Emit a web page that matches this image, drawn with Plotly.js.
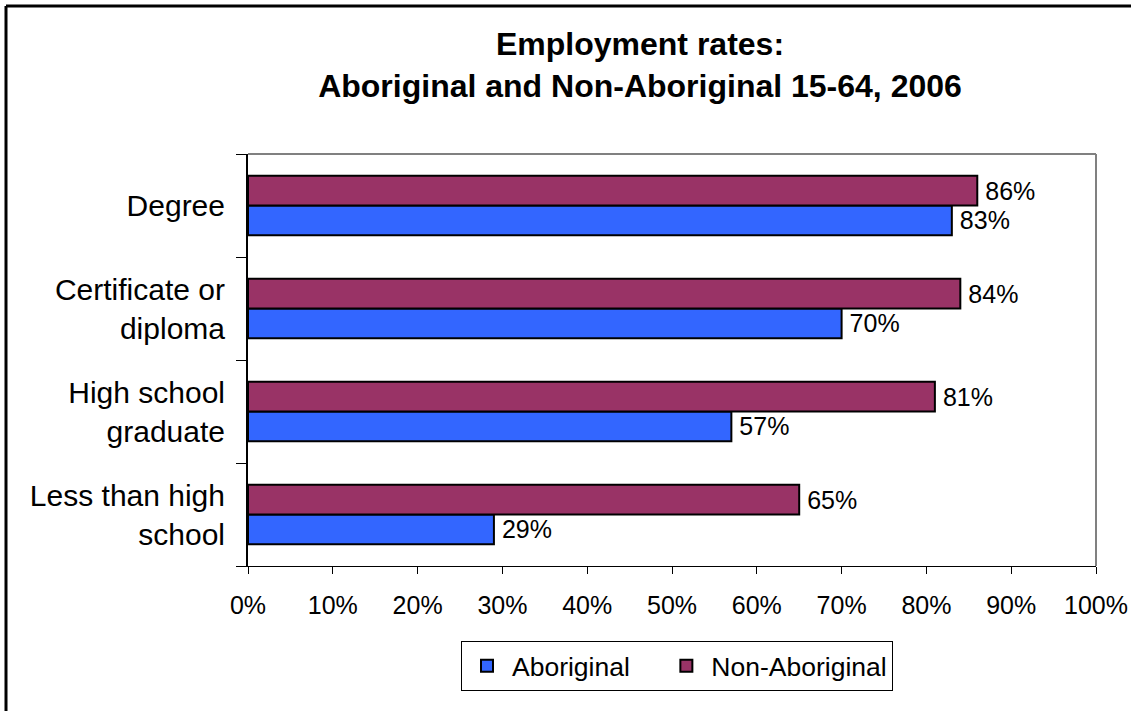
<!DOCTYPE html>
<html>
<head>
<meta charset="utf-8">
<script src="https://cdn.plot.ly/plotly-3.0.1.min.js"></script>
<style>
html,body{margin:0;padding:0;background:#fff;}
#chart{width:1131px;height:711px;}
</style>
</head>
<body>
<div id="chart"></div>
<script>
// Categories listed bottom-to-top
const categories = ["Less than high<br>school", "High school<br>graduate", "Certificate or<br>diploma", "Degree"];
const aboriginal = [29, 57, 70, 83];
const nonAboriginal = [65, 81, 84, 86];
const xTickVals = [0, 10, 20, 30, 40, 50, 60, 70, 80, 90, 100];
const xTickText = ["0%", "10%", "20%", "30%", "40%", "50%", "60%", "70%", "80%", "90%", "100%"];
const seriesNames = ["Aboriginal", "Non-Aboriginal"];
const titleText = "<b>Employment rates:<br>Aboriginal and Non-Aboriginal 15-64, 2006</b>";

const FONT = "Liberation Sans, Arial, Helvetica, sans-serif";
const L = 248, R = 1096, T = 154, B = 566, W = 1131, H = 711;
const px = x => (x - L) / (R - L);
const py = y => (B - y) / (B - T);
const pctLabel = v => "\u2009" + v + "%";

const traces = [
  {
    type: "bar", orientation: "h", name: seriesNames[0] + "\u2003",
    y: categories, x: aboriginal,
    text: aboriginal.map(pctLabel), textposition: "outside",
    textfont: {family: FONT, size: 25, color: "#000"},
    constraintext: "none", cliponaxis: false,
    marker: {color: "#3366FF", line: {color: "#000", width: 2}},
    hoverinfo: "skip"
  },
  {
    type: "bar", orientation: "h", name: seriesNames[1],
    y: categories, x: nonAboriginal,
    text: nonAboriginal.map(pctLabel), textposition: "outside",
    textfont: {family: FONT, size: 25, color: "#000"},
    constraintext: "none", cliponaxis: false,
    marker: {color: "#993366", line: {color: "#000", width: 2}},
    hoverinfo: "skip"
  }
];

const layout = {
  width: W, height: H,
  margin: {l: L, r: W - R, t: T, b: H - B, pad: 0},
  paper_bgcolor: "#fff", plot_bgcolor: "#fff",
  font: {family: FONT, color: "#000"},
  showlegend: true,
  barmode: "group", bargap: 0.42, bargroupgap: 0,
  title: {
    text: titleText, font: {family: FONT, size: 32, color: "#000"},
    x: 640 / W, xanchor: "center", xref: "container",
    y: 1 - 55 / H, yanchor: "middle", yref: "container"
  },
  xaxis: {
    range: [0, 100], tickvals: xTickVals, ticktext: xTickText,
    showgrid: false, zeroline: false,
    showline: true, linecolor: "#000", linewidth: 1,
    ticks: "outside", ticklen: 7, tickcolor: "#000", tickwidth: 1,
    ticklabelstandoff: 10,
    tickfont: {family: FONT, size: 25, color: "#000"},
    fixedrange: true
  },
  yaxis: {
    type: "category", categoryorder: "array", categoryarray: categories,
    range: [-0.5, 3.5], tickson: "boundaries",
    showgrid: false, zeroline: false,
    showline: true, linecolor: "#000", linewidth: 2,
    ticks: "outside", ticklen: 10, tickcolor: "#000", tickwidth: 1,
    ticklabelstandoff: 15,
    tickfont: {family: FONT, size: 30, color: "#000"},
    fixedrange: true
  },
  legend: {
    orientation: "h", x: px(677), xanchor: "center",
    y: py(641), yanchor: "top",
    bordercolor: "#000", borderwidth: 1, bgcolor: "#fff",
    font: {family: FONT, size: 26.5, color: "#000"},
    itemwidth: 40,
    traceorder: "normal"
  },
  shapes: [
    {type: "line", xref: "paper", yref: "paper", x0: 0, x1: 1, y0: 1, y1: 1, line: {color: "#808080", width: 2}},
    {type: "line", xref: "paper", yref: "paper", x0: 1, x1: 1, y0: 0, y1: 1, line: {color: "#808080", width: 2}},
    {type: "line", xref: "paper", yref: "paper", x0: px(6), x1: px(1135), y0: py(6), y1: py(6), line: {color: "#000", width: 3}},
    {type: "line", xref: "paper", yref: "paper", x0: px(6), x1: px(6), y0: py(6), y1: py(715), line: {color: "#000", width: 3}}
  ]
};

Plotly.newPlot("chart", traces, layout, {displayModeBar: false, staticPlot: true});
</script>
</body>
</html>
